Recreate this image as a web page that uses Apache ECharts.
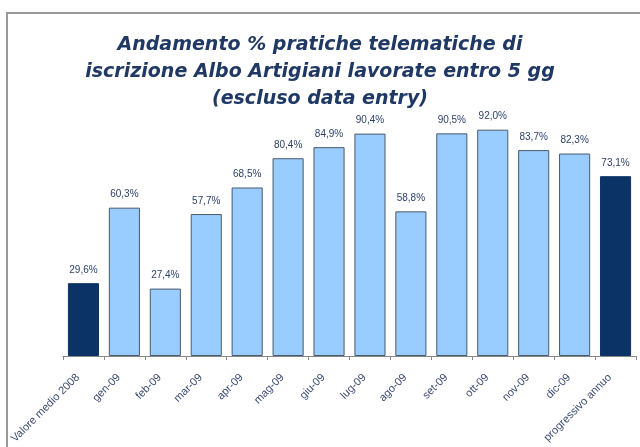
<!DOCTYPE html>
<html>
<head>
<meta charset="utf-8">
<script src="https://cdn.jsdelivr.net/npm/echarts@6/dist/echarts.min.js"></script>
<style>
  html, body { margin: 0; padding: 0; background: #ffffff; }
  #chart { width: 640px; height: 447px; }
</style>
</head>
<body>
<div id="chart"></div>
<script>
// Categories along the x axis
const categories = ['Valore medio 2008', 'gen-09', 'feb-09', 'mar-09', 'apr-09', 'mag-09', 'giu-09',
  'lug-09', 'ago-09', 'set-09', 'ott-09', 'nov-09', 'dic-09', 'progressivo annuo'];
// Share of applications processed within 5 days (%)
const values = [29.6, 60.3, 27.4, 57.7, 68.5, 80.4, 84.9, 90.4, 58.8, 90.5, 92.0, 83.7, 82.3, 73.1];
// Summary bars (2008 average and year-to-date) are drawn in dark navy
const summaryCategories = ['Valore medio 2008', 'progressivo annuo'];

const titleLines = ['Andamento % pratiche telematiche di',
  'iscrizione Albo Artigiani lavorate entro 5 gg',
  '(escluso data entry)'];

const chart = echarts.init(document.getElementById('chart'), null, { renderer: 'canvas' });

const barData = values.map((v, i) => ({
  value: v,
  itemStyle: summaryCategories.includes(categories[i])
    ? { color: '#0b3366', borderColor: '#0b3366' }
    : { color: '#99ccff', borderColor: '#4a5a6a' }
}));

chart.setOption({
  backgroundColor: '#ffffff',
  animation: false,
  graphic: [
    {
      type: 'rect',
      shape: { x: 7, y: 13, width: 700, height: 500 },
      style: { fill: 'none', stroke: '#9a9a9a', lineWidth: 2 },
      z: 0
    }
  ],
  title: {
    text: titleLines.join('\n'),
    left: 'center',
    top: 27,
    textStyle: {
      fontFamily: 'DejaVu Sans',
      fontStyle: 'italic',
      fontWeight: 'bold',
      fontSize: 19,
      lineHeight: 27,
      color: '#1f3864'
    }
  },
  grid: { left: 63, right: 4, top: 110, bottom: 91 },
  xAxis: {
    type: 'category',
    data: categories,
    axisLine: { lineStyle: { color: '#888888', width: 1 } },
    axisTick: { show: true, alignWithLabel: false, length: 4, lineStyle: { color: '#888888' } },
    axisLabel: {
      rotate: 45,
      interval: 0,
      margin: 14,
      padding: [0, 8, 0, 0],
      fontFamily: 'Liberation Sans',
      fontSize: 11,
      color: '#3a4a72'
    }
  },
  yAxis: {
    type: 'value',
    min: 0,
    max: 100,
    show: false
  },
  series: [{
    type: 'bar',
    data: barData,
    barCategoryGap: '24%',
    itemStyle: { borderWidth: 1 },
    label: {
      show: true,
      position: 'top',
      distance: 8,
      fontFamily: 'Liberation Sans',
      fontSize: 10,
      color: '#2a3f6a',
      formatter: p => p.value.toFixed(1).replace('.', ',') + '%'
    }
  }]
});
</script>
</body>
</html>
